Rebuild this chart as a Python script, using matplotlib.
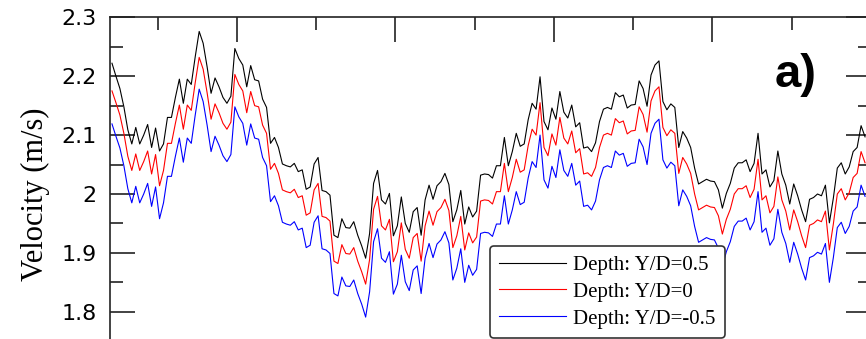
import numpy as np
import matplotlib
matplotlib.use("Agg")
import matplotlib.pyplot as plt
from matplotlib.ticker import MultipleLocator

# ---------------- data ----------------
dt = 0.25
t_start = 2.125

v_top = [2.222, 2.200, 2.179, 2.148, 2.109, 2.085, 2.113, 2.085, 2.100, 2.118,
         2.079, 2.112, 2.073, 2.085, 2.130, 2.130, 2.164, 2.195, 2.154, 2.195,
         2.186, 2.233, 2.276, 2.256, 2.216, 2.171, 2.197, 2.182, 2.164, 2.154,
         2.166, 2.247, 2.230, 2.219, 2.182, 2.218, 2.194, 2.192, 2.161, 2.147,
         2.086, 2.096, 2.079, 2.051, 2.048, 2.046, 2.052, 2.038, 2.041, 2.008,
         2.012, 2.051, 2.062, 2.006, 2.004, 1.998, 1.930, 1.926, 1.958, 1.943,
         1.942, 1.953, 1.930, 1.912, 1.891, 1.933, 2.018, 2.040, 1.990, 1.983,
         2.001, 1.929, 1.946, 1.995, 1.950, 1.935, 1.970, 1.977, 1.930, 1.990,
         2.015, 1.991, 2.014, 2.021, 2.035, 2.016, 1.953, 1.973, 2.006, 1.949,
         1.978, 1.961, 1.971, 2.032, 2.034, 2.033, 2.027, 2.048, 2.048, 2.096,
         2.048, 2.072, 2.103, 2.081, 2.085, 2.126, 2.154, 2.144, 2.199, 2.123,
         2.109, 2.146, 2.127, 2.174, 2.139, 2.129, 2.151, 2.114, 2.121, 2.078,
         2.080, 2.072, 2.087, 2.123, 2.144, 2.147, 2.144, 2.172, 2.165, 2.168,
         2.146, 2.151, 2.152, 2.192, 2.179, 2.149, 2.202, 2.219, 2.226, 2.157,
         2.143, 2.153, 2.147, 2.079, 2.106, 2.095, 2.079, 2.044, 2.017, 2.021,
         2.025, 2.022, 2.021, 2.007, 1.976, 2.001, 2.018, 2.044, 2.053, 2.053,
         2.058, 2.038, 2.052, 2.103, 2.034, 2.041, 2.012, 2.023, 2.073, 2.034,
         2.015, 1.983, 2.017, 1.997, 1.973, 1.953, 1.991, 1.994, 2.000, 1.997,
         2.015, 1.951, 1.993, 2.044, 2.053, 2.034, 2.046, 2.072, 2.079, 2.116,
         2.097]

v_mid = [2.175, 2.155, 2.134, 2.103, 2.064, 2.040, 2.068, 2.040, 2.055, 2.073,
         2.034, 2.067, 2.014, 2.040, 2.086, 2.086, 2.120, 2.151, 2.110, 2.151,
         2.142, 2.189, 2.232, 2.212, 2.172, 2.127, 2.153, 2.138, 2.120, 2.110,
         2.122, 2.203, 2.186, 2.175, 2.138, 2.174, 2.150, 2.148, 2.117, 2.103,
         2.042, 2.052, 2.035, 2.007, 2.004, 2.002, 2.008, 1.994, 1.997, 1.964,
         1.968, 2.007, 2.018, 1.962, 1.960, 1.954, 1.886, 1.882, 1.914, 1.899,
         1.898, 1.909, 1.886, 1.868, 1.847, 1.889, 1.974, 1.996, 1.946, 1.939,
         1.957, 1.885, 1.902, 1.951, 1.906, 1.891, 1.926, 1.933, 1.886, 1.946,
         1.971, 1.947, 1.970, 1.977, 1.991, 1.972, 1.909, 1.929, 1.962, 1.905,
         1.934, 1.917, 1.927, 1.988, 1.990, 1.989, 1.983, 2.004, 2.004, 2.052,
         2.004, 2.028, 2.059, 2.037, 2.041, 2.082, 2.110, 2.100, 2.155, 2.079,
         2.065, 2.102, 2.083, 2.130, 2.095, 2.085, 2.107, 2.070, 2.077, 2.034,
         2.036, 2.030, 2.045, 2.079, 2.100, 2.103, 2.100, 2.128, 2.121, 2.124,
         2.102, 2.107, 2.108, 2.148, 2.135, 2.105, 2.158, 2.175, 2.182, 2.113,
         2.099, 2.109, 2.103, 2.035, 2.062, 2.051, 2.035, 2.000, 1.973, 1.977,
         1.981, 1.978, 1.977, 1.963, 1.932, 1.957, 1.974, 2.000, 2.009, 2.009,
         2.014, 1.994, 2.008, 2.059, 1.990, 1.997, 1.968, 1.979, 2.029, 1.990,
         1.971, 1.939, 1.973, 1.953, 1.929, 1.909, 1.947, 1.950, 1.956, 1.953,
         1.971, 1.905, 1.949, 2.000, 2.009, 1.990, 2.002, 2.028, 2.035, 2.072,
         2.053]

v_bot = [2.119, 2.098, 2.078, 2.048, 2.009, 1.985, 2.013, 1.985, 2.000, 2.018,
         1.979, 2.012, 1.958, 1.985, 2.030, 2.030, 2.064, 2.095, 2.054, 2.095,
         2.086, 2.134, 2.178, 2.157, 2.117, 2.072, 2.098, 2.083, 2.065, 2.055,
         2.067, 2.148, 2.131, 2.120, 2.083, 2.119, 2.095, 2.093, 2.062, 2.048,
         1.987, 1.997, 1.980, 1.952, 1.949, 1.947, 1.953, 1.939, 1.942, 1.909,
         1.913, 1.952, 1.963, 1.907, 1.905, 1.899, 1.831, 1.827, 1.859, 1.844,
         1.843, 1.854, 1.831, 1.813, 1.791, 1.834, 1.919, 1.941, 1.891, 1.884,
         1.902, 1.830, 1.847, 1.896, 1.851, 1.836, 1.871, 1.878, 1.831, 1.891,
         1.916, 1.892, 1.915, 1.922, 1.936, 1.917, 1.854, 1.874, 1.907, 1.850,
         1.879, 1.862, 1.872, 1.933, 1.935, 1.934, 1.928, 1.949, 1.949, 1.997,
         1.949, 1.973, 2.004, 1.982, 1.986, 2.027, 2.055, 2.045, 2.100, 2.024,
         2.010, 2.047, 2.028, 2.075, 2.040, 2.030, 2.052, 2.015, 2.022, 1.979,
         1.981, 1.973, 1.988, 2.024, 2.045, 2.048, 2.045, 2.073, 2.066, 2.069,
         2.047, 2.052, 2.053, 2.093, 2.080, 2.050, 2.103, 2.120, 2.127, 2.058,
         2.044, 2.054, 2.048, 1.980, 2.007, 1.996, 1.980, 1.945, 1.918, 1.922,
         1.926, 1.923, 1.922, 1.908, 1.877, 1.902, 1.919, 1.945, 1.954, 1.954,
         1.959, 1.939, 1.953, 2.004, 1.935, 1.942, 1.913, 1.924, 1.974, 1.935,
         1.916, 1.884, 1.918, 1.898, 1.874, 1.854, 1.892, 1.895, 1.901, 1.898,
         1.916, 1.850, 1.892, 1.943, 1.952, 1.933, 1.945, 1.971, 1.978, 2.015,
         1.996]

labels = ["Depth: Y/D=0.5", "Depth: Y/D=0", "Depth: Y/D=-0.5"]
colors = ["black", "red", "blue"]
y_label = "Velocity (m/s)"
panel_tag = "a)"
y_ticks = [1.8, 1.9, 2.0, 2.1, 2.2, 2.3]
y_tick_labels = ["1.8", "1.9", "2", "2.1", "2.2", "2.3"]

t = t_start + dt * np.arange(len(v_top))

# ---------------- figure ----------------
W, H = 866, 339
fig = plt.figure(figsize=(W / 100, H / 100), dpi=100)
left_px, right_px, top_px = 110, 871, 17.3
ymin, ymax = 1.7, 2.3
px_per_unit = 589.0
bottom_px = top_px + (ymax - ymin) * px_per_unit
ax = fig.add_axes([left_px / W, 1 - bottom_px / H,
                   (right_px - left_px) / W, (bottom_px - top_px) / H])

for v, c, lab in zip([v_top, v_mid, v_bot], colors, labels):
    ax.plot(t, v, color=c, lw=0.8, label=lab)

ax.set_xlim(2, 50)
ax.set_ylim(ymin, ymax)
ax.xaxis.set_major_locator(MultipleLocator(10))
ax.xaxis.set_minor_locator(MultipleLocator(5))
ax.set_yticks(y_ticks)
ax.set_yticklabels(y_tick_labels, family="DejaVu Sans")
ax.yaxis.set_minor_locator(MultipleLocator(0.05))
ax.tick_params(which="both", direction="in", top=True, right=True,
               labelbottom=False, color="#222222")
ax.tick_params(which="major", length=18.2, width=1.2)
ax.tick_params(which="minor", length=9.1, width=1.2)
ax.tick_params(axis="y", labelsize=16, pad=9.4)
for s in ax.spines.values():
    s.set_linewidth(1.2)
    s.set_color("#222222")

fig.text(35 / W, 1 - 194 / H, y_label, rotation=90, ha="center", va="center",
         family="Liberation Serif", fontsize=22)
fig.text(796 / W, 1 - 75 / H, panel_tag, ha="center", va="center",
         family="Liberation Sans", fontweight="bold", fontsize=34)

leg = ax.legend(loc="lower right", bbox_to_anchor=(725 / W, 1 / H),
                bbox_transform=fig.transFigure, borderaxespad=0,
                prop={"family": "Liberation Serif", "size": 15},
                handlelength=3.2, handletextpad=0.35, labelspacing=0.35,
                borderpad=0.45, fancybox=True, framealpha=1,
                edgecolor="#333333")
leg.get_frame().set_linewidth(1.2)

fig.savefig("out.png", dpi=100)
